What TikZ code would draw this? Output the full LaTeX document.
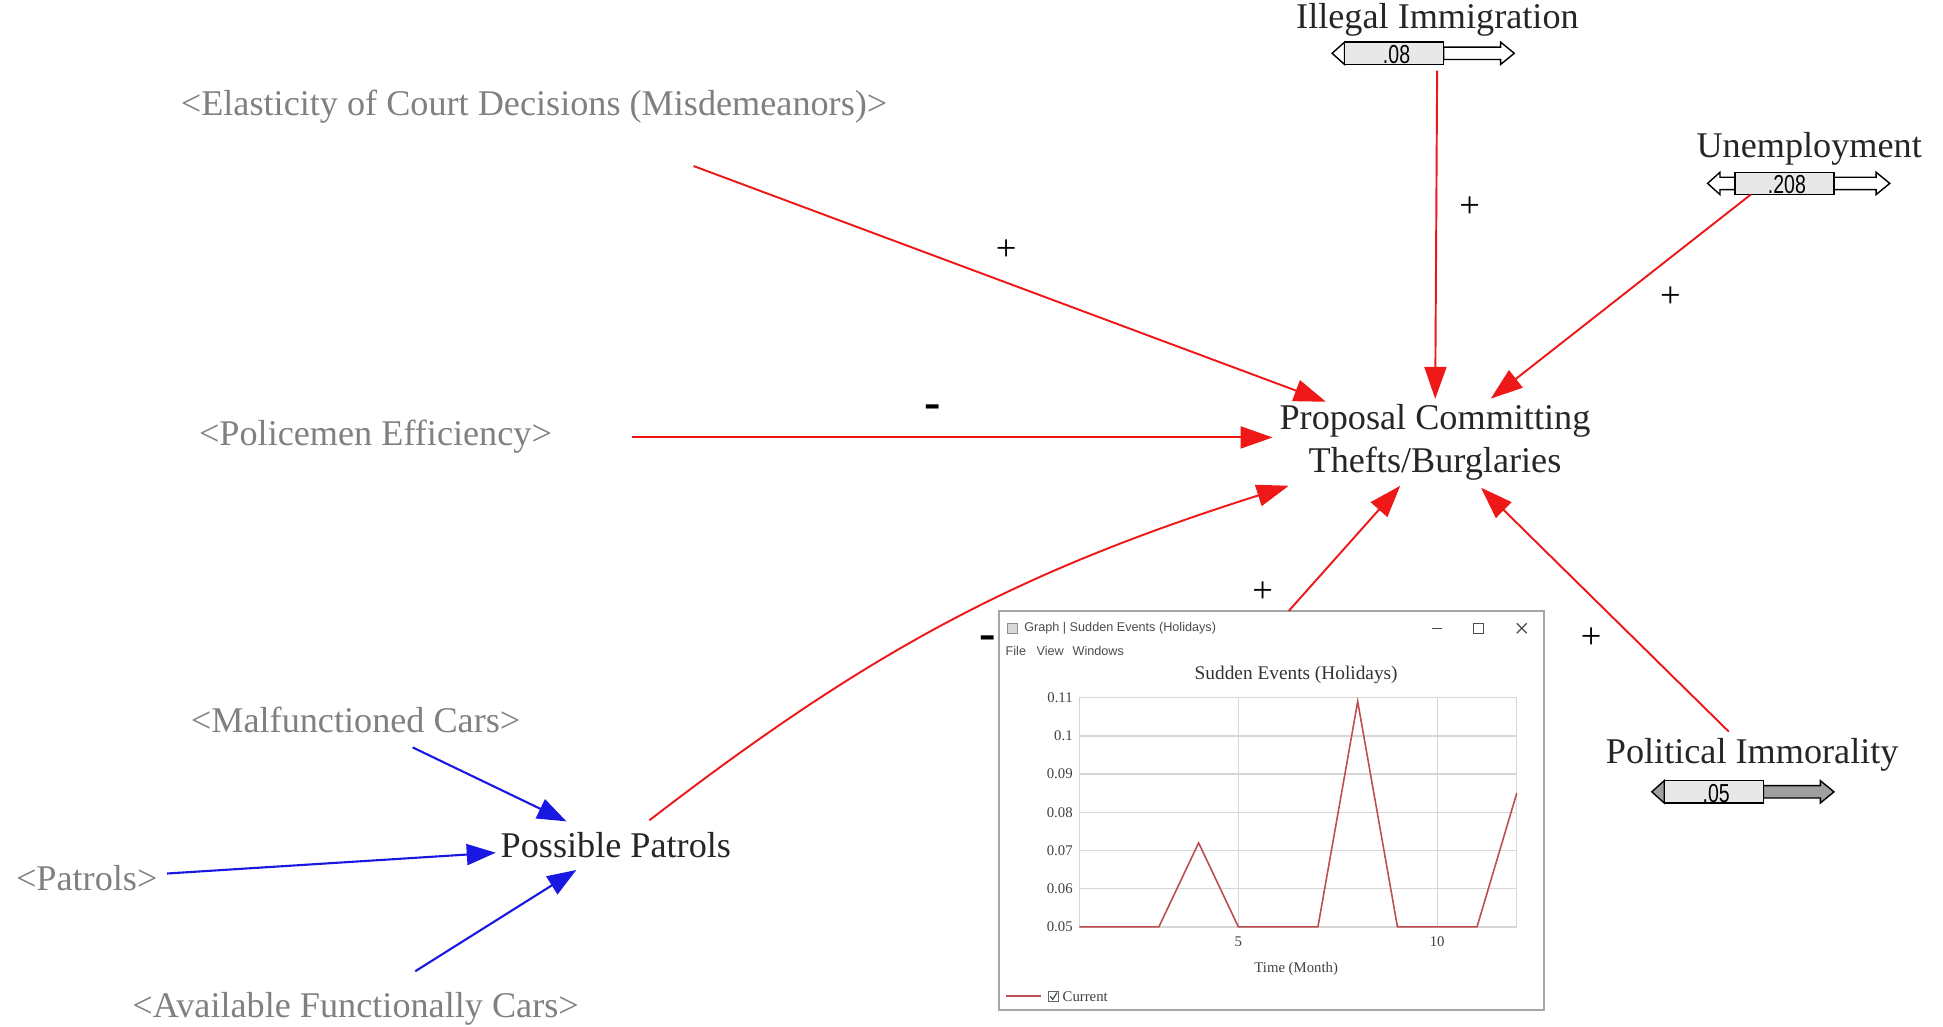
\documentclass[tikz,border=0pt]{standalone}
\usepackage{fontspec}
\setmainfont{Liberation Serif}
\setsansfont{Liberation Sans}
\usepackage{xcolor}
\usepackage{graphicx}
\usetikzlibrary{arrows.meta, calc}

\definecolor{linkred}{RGB}{238,24,24}
\definecolor{linkblue}{RGB}{24,24,226}
\definecolor{shadowgray}{RGB}{128,128,128}
\definecolor{plotred}{RGB}{188,78,78}
\definecolor{gridgray}{RGB}{214,214,214}
\definecolor{boxgray}{RGB}{232,232,232}
\definecolor{armgray}{RGB}{160,160,160}

\newcommand{\slider}[6]{%
  \filldraw[fill=#6, line width=0.4pt] (#2,#3) -- (#2+10,#3-9) -- (#2+10,#3-5) -- (#4,#3-5)
    -- (#4,#3+5) -- (#2+10,#3+5) -- (#2+10,#3+9) -- cycle;
  \filldraw[fill=#6, line width=0.4pt] (#4+80,#3-5) -- (#2+136,#3-5) -- (#2+136,#3-9) -- (#2+147,#3)
    -- (#2+136,#3+9) -- (#2+136,#3+5) -- (#4+80,#3+5) -- cycle;
  \filldraw[fill=boxgray, line width=0.4pt] (#4,#3-9) rectangle (#4+80,#3+9);
  \node[font=\sffamily\fontsize{7.4}{8}\selectfont, inner sep=0pt] (#1) at (#4+42,#3+1) {\scalebox{0.75}[1]{#5}};
}

\begin{document}
\begin{tikzpicture}[x=0.12392mm, y=-0.12392mm,
    var/.style={text=black!85, font=\fontsize{10.3}{12}\selectfont, align=center, inner sep=0pt},
    shadowvar/.style={var, text=shadowgray},
    redlink/.style={draw=linkred, line width=0.55pt, -{Triangle[length=3.2mm, width=2.2mm]}},
    bluelink/.style={draw=linkblue, line width=0.6pt, -{Triangle[length=2.9mm, width=2.1mm]}},
    sign/.style={font=\fontsize{10.4}{12}\selectfont, inner sep=0pt},
    minus/.style={font=\bfseries\fontsize{14}{14}\selectfont, inner sep=0pt},
    wintext/.style={font=\sffamily\fontsize{3.6}{4}\selectfont, text=black!70, inner sep=0pt},
    ticktext/.style={font=\fontsize{4.2}{5}\selectfont, text=black!75, inner sep=0pt}]
  \useasboundingbox (0,0) rectangle (1568,828);

  \node[var] (ill) at (1160,16) {Illegal Immigration};
  \node[var] (unemp) at (1460,120) {Unemployment};
  \node[var] (polim) at (1414,609) {Political Immorality};
  \node[var] (pcb) at (1158,357) {Proposal Committing\\Thefts/Burglaries};
  \node[shadowvar] (elast) at (431,86) {<Elasticity of Court Decisions (Misdemeanors)>};
  \node[shadowvar] (police) at (303,352) {<Policemen Efficiency>};
  \node[shadowvar] (malcars) at (287,581) {<Malfunctioned Cars>};
  \node[var] (pp) at (497,682) {Possible Patrols};
  \node[shadowvar] (patrols) at (70,709) {<Patrols>};
  \node[shadowvar] (avcars) at (287,814) {<Available Functionally Cars>};

  \slider{illval}{1075}{43}{1085}{.08}{white}
  \slider{unempval}{1378}{148}{1400}{.208}{white}
  \slider{polimval}{1333}{639}{1343}{.05}{armgray}

  \node[draw=black!35, fill=white, line width=0.6pt, minimum width=54.52mm, minimum height=39.9mm,
    inner sep=0pt, outer sep=0pt] (win) at (1026,654) {};
  \draw[black!45, fill=black!15, line width=0.3pt] (813,503) rectangle (821,511);
  \node[wintext, anchor=west] (wintitle) at (826,507) {Graph | Sudden Events (Holidays)};
  \draw[black!70, line width=0.35pt] (1156,507) -- (1164,507);
  \draw[black!70, line width=0.35pt] (1189,503) rectangle (1197,511);
  \draw[black!70, line width=0.35pt] (1224,503) -- (1232,511) (1224,511) -- (1232,503);
  \node[wintext, anchor=west] (menufile) at (811,525) {File};
  \node[wintext, anchor=west] (menuview) at (836,525) {View};
  \node[wintext, anchor=west] (menuwin) at (865,525) {Windows};
  \node[font=\fontsize{5.5}{6}\selectfont, text=black!80, inner sep=0pt] (charttitle) at (1046,545) {Sudden Events (Holidays)};

  \begin{scope}[shift={(871,748)}, x=3.9766mm, y=3.8205mm]
    \draw[gridgray, line width=0.4pt] (0,0) rectangle (11,6);
    \foreach \v in {1,...,5}
      \draw[gridgray, line width=0.4pt] (0,\v) -- (11,\v);
    \foreach \t in {4,9}
      \draw[gridgray, line width=0.4pt] (\t,0) -- (\t,6);
    \draw[plotred, line width=0.45pt] (0,0) -- (2,0) -- (3,2.2) -- (4,0) -- (6,0) -- (7,5.9)
      -- (8,0) -- (10,0) -- (11,3.5);
    \foreach \v/\lab in {0/0.05,1/0.06,2/0.07,3/0.08,4/0.09,5/0.1,6/0.11}
      \node[ticktext, anchor=east] (ytick\v) at (-0.15,\v) {\lab};
    \node[ticktext, anchor=north] (xtickfive) at (4,-0.25) {5};
    \node[ticktext, anchor=north] (xtickten) at (9,-0.25) {10};
  \end{scope}
  \node[ticktext] (xlabel) at (1046,782) {Time (Month)};
  \draw[plotred, line width=0.6pt] (812,804) -- (840,804);
  \draw[black!60, line width=0.3pt] (846,800) rectangle (854,808);
  \draw[black!70, line width=0.35pt] (847.5,804) -- (849.5,806.5) -- (853,801);
  \node[ticktext, anchor=west] (legend) at (857,804) {Current};

  \draw[redlink] ($(elast)!0.177!(pcb)$) -- ($(elast)!0.879!(pcb)$);
  \draw[redlink] ($(ill)!0.12!(pcb)$) -- ($(ill)!0.897!(pcb)$);
  \draw[redlink] ($(unemp)!0.156!(pcb)$) -- ($(unemp)!0.851!(pcb)$);
  \draw[redlink] ([shift={(207,1)}]police.center) -- ($(pcb)+(-131,-4)$);
  \draw[redlink] ([shift={(27,-20)}]pp.center) to[bend left=10] ($(pcb)+(-118,35)$);
  \draw[redlink] ([shift={(14,0)}]win.north) -- ($(pcb)+(-28,35)$);
  \draw[redlink] ($(polim)!0.074!(pcb)$) -- ($(polim)!0.855!(pcb)$);
  \draw[bluelink] ($(malcars)!0.219!(pp)$) -- ($(malcars)!0.81!(pp)$);
  \draw[bluelink] ($(patrols)!0.152!(pp)$) -- ($(patrols)!0.773!(pp)$);
  \draw[bluelink] ($(avcars)!0.229!(pp)$) -- ($(avcars)!0.848!(pp)$);

  \node[sign] (selast) at (812,202) {+};
  \node[sign] (sill) at (1186,167) {+};
  \node[sign] (sunemp) at (1348,240) {+};
  \node[minus] (spolice) at (753,332) {-};
  \node[minus] (spp) at (797,519) {-};
  \node[sign] (swin) at (1019,478) {+};
  \node[sign] (spolim) at (1284,515) {+};
\end{tikzpicture}
\end{document}
